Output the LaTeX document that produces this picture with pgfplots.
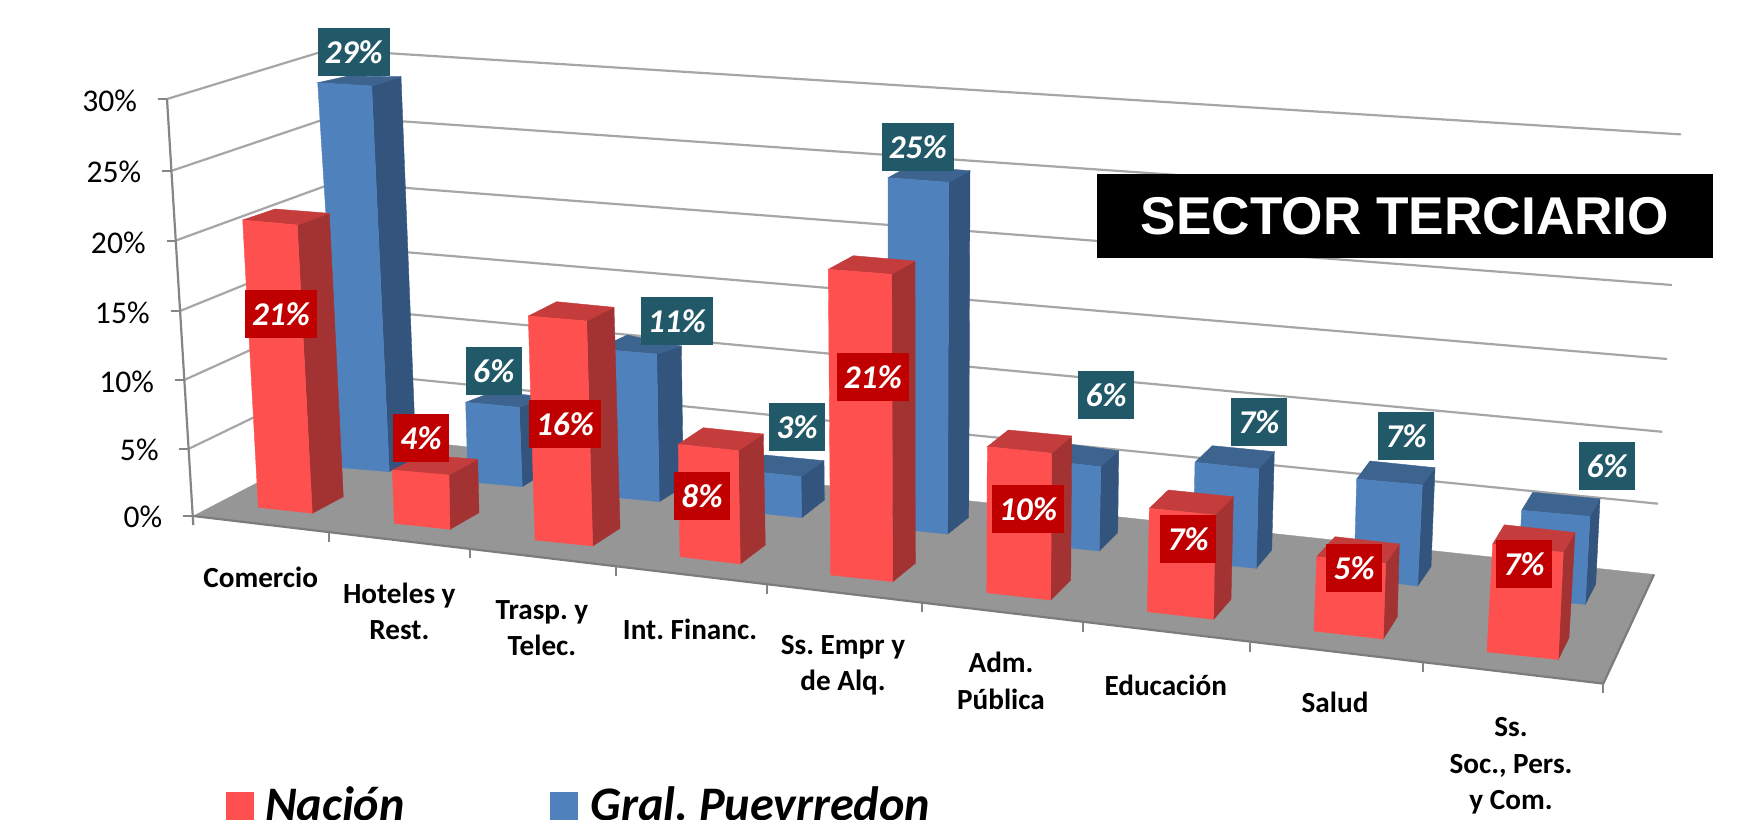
\documentclass[border=0pt]{standalone}
\usepackage{fontspec}
\setmainfont{Carlito}
\newfontfamily\titlefont{Liberation Sans}
\usepackage{pgfplots}
\pgfplotsset{compat=1.18}
\frenchspacing

\definecolor{redF}{HTML}{FF5050}
\definecolor{redS}{HTML}{A33232}
\definecolor{redT}{HTML}{C43C3C}
\definecolor{bluF}{HTML}{4F81BD}
\definecolor{bluS}{HTML}{33547D}
\definecolor{bluT}{HTML}{3D638F}
\definecolor{redL}{HTML}{C00000}
\definecolor{bluL}{HTML}{215968}
\definecolor{floorc}{HTML}{969696}
\definecolor{gridc}{HTML}{A6A6A6}

% the chart is a 3D perspective one: every face is a polygon,
% axis units are the reference's pixels (y downwards)
\newcommand{\poly}[2]{\addplot[fill=#1,draw=#1,line width=0.2pt] coordinates {#2} -- cycle;}
% prefix, front-left top, front-right top, back-left top, back-right top, bottoms FL FR BR
\newcommand{\cuboid}[8]{%
  \poly{#1S}{#3 #5 #8 #7}%
  \poly{#1T}{#2 #4 #5 #3}%
  \poly{#1F}{#2 #3 #7 #6}%
}
\newcommand{\gl}[1]{\addplot[gridc,line width=1.1pt] coordinates {#1};}
\newcommand{\tk}[1]{\addplot[gridc!80!black,line width=1.1pt] coordinates {#1};}
\newcommand{\lb}[1]{\raisebox{-0.8pt}{#1}}

\tikzset{
  ylab/.style={anchor=east,inner sep=0pt,font=\fontsize{15.8}{18}\selectfont},
  cat/.style={align=center,inner sep=0pt,font=\fontsize{14.6}{18.2}\selectfont\bfseries},
  vb/.style={fill=#1,text=white,inner sep=0pt,minimum height=24pt,font=\fontsize{16.6}{18}\selectfont\bfseries\itshape},
  two/.style={vb=#1,minimum width=36pt},
  one/.style={vb=#1,minimum width=28pt},
}

\begin{document}
\begin{tikzpicture}
\useasboundingbox (0,0) rectangle (875pt,409.5pt);
\begin{axis}[
  at={(0,0)}, anchor=south west,
  scale only axis, width=875pt, height=409.5pt,
  xmin=0, xmax=1750, ymin=0, ymax=819, y dir=reverse,
  hide axis, clip=false,
]
% floor
\poly{floorc}{(193.3,516) (350.5,434.3) (1654,574.5) (1603.3,683.6)}
\addplot[gridc!75!black,line width=1.1pt] coordinates {(193.3,516) (1603.3,683.6) (1654,574.5)};

% gridlines: axis, back corner, right end
\gl{(167,99) (329,49.5) (1681,134.4)}
\gl{(171,171) (332.5,116.5) (1676.5,209.6)}
\gl{(175.3,240.7) (335,182.5) (1672,285)}
\gl{(180,311) (339,246.5) (1667,359)}
\gl{(184.3,380) (343,308) (1662.3,431.8)}
\gl{(189,448.7) (346.5,372.5) (1658,503.7)}

% value axis and its ticks
\tk{(167,99) (193.3,525)}
\tk{(157.7,99) (167,99)}
\tk{(162.3,171) (171,171)}
\tk{(166.7,240.7) (175.3,240.7)}
\tk{(170.7,311) (180,311)}
\tk{(175.3,380) (184.3,380)}
\tk{(179.3,448.7) (189,448.7)}
\tk{(183.3,516) (193.3,516)}

% category ticks
\tk{(329.3,533) (329.3,541.7)}
\tk{(470,550) (470,558)}
\tk{(615.7,566) (615.7,575.7)}
\tk{(766.7,585) (766.7,594)}
\tk{(921.7,603) (921.7,612)}
\tk{(1083,623) (1083,631.7)}
\tk{(1250,643) (1250,651.7)}
\tk{(1423.3,663) (1423.3,671.7)}
\tk{(1603.3,683.6) (1603.3,693)}

% Gral. Puevrredon
\cuboid{blu}{(317.7,82.7)}{(371.7,86)}{(348,76)}{(401,76.7)}{(341.7,467.7)}{(389.3,471.7)}{(416,458)}
\cuboid{blu}{(465.7,402.3)}{(519.3,407.3)}{(493.3,391.7)}{(548,397)}{(468,481.7)}{(522.3,486.7)}{(549,470)}
\cuboid{blu}{(597,349)}{(656.7,354)}{(627.3,335)}{(681.3,346)}{(598,495.7)}{(659.3,501.7)}{(683.3,486.7)}
\cuboid{blu}{(740,470)}{(801,476.7)}{(765,455)}{(824,460.7)}{(740,511)}{(801.7,517.7)}{(824.3,500)}
\cuboid{blu}{(888,177.7)}{(948.7,182.3)}{(909.3,166)}{(970,170.7)}{(888,528)}{(947.7,534)}{(968.7,517.3)}
\cuboid{blu}{(1040,460)}{(1100.7,466.7)}{(1060,443)}{(1118.7,450.7)}{(1040,545)}{(1099.3,551)}{(1117.7,532.7)}
\cuboid{blu}{(1195,462.3)}{(1258.7,469)}{(1212.3,445.7)}{(1274.3,451.7)}{(1193,562)}{(1256.3,568.3)}{(1271.7,550)}
\cuboid{blu}{(1356.7,479)}{(1422.3,485)}{(1370,461)}{(1435,467.7)}{(1354,578)}{(1417.7,586)}{(1431,566.7)}
\cuboid{blu}{(1521.7,510.3)}{(1590,516.4)}{(1532.7,492.3)}{(1600,498.8)}{(1517,598)}{(1585.3,604.4)}{(1595.7,584)}

% Nacion
\cuboid{red}{(242.7,220)}{(297.3,225)}{(275,209)}{(329.3,213.3)}{(258.3,507.3)}{(312.3,513.3)}{(343.3,496.7)}
\cuboid{red}{(392.3,470)}{(449,475)}{(423,455)}{(477.7,459.3)}{(394.3,523.3)}{(450,529.3)}{(479,512.7)}
\cuboid{red}{(528.3,316)}{(586.7,321)}{(556.7,301.7)}{(614,307.3)}{(535,540)}{(592.7,546)}{(620,528.3)}
\cuboid{red}{(678.3,444.3)}{(738.3,450.7)}{(703.3,427.7)}{(763.3,434)}{(680,556.7)}{(740.3,564)}{(765.3,545)}
\cuboid{red}{(828.3,269.3)}{(891.7,274.3)}{(853.3,255.7)}{(915,261)}{(830.7,575)}{(892.7,581.7)}{(915.3,563.3)}
\cuboid{red}{(987.3,446.7)}{(1051.7,453.3)}{(1008.3,430)}{(1071.7,436)}{(986.7,592.7)}{(1050.7,600)}{(1070.7,580)}
\cuboid{red}{(1149.3,508.3)}{(1215,515)}{(1168.3,490)}{(1233.3,496.7)}{(1147.3,611.7)}{(1213.7,619.3)}{(1231,599.3)}
\cuboid{red}{(1316.7,556.7)}{(1385.7,563.3)}{(1335,536.7)}{(1399.3,544)}{(1314,631)}{(1383.3,639)}{(1397.3,616.7)}
\cuboid{red}{(1492.7,544)}{(1563.3,552.4)}{(1504.3,524.8)}{(1575,532.5)}{(1487,651.9)}{(1558.3,659.5)}{(1569,637.7)}

% value labels on the axis
\node[ylab] at (axis cs:137.3,101) {30\%};
\node[ylab] at (axis cs:141.7,172) {25\%};
\node[ylab] at (axis cs:146,243) {20\%};
\node[ylab] at (axis cs:150,313) {15\%};
\node[ylab] at (axis cs:154.3,382) {10\%};
\node[ylab] at (axis cs:159,450) {5\%};
\node[ylab] at (axis cs:162.7,516.7) {0\%};

% categories
\node[cat] at (axis cs:260.7,577) {Comercio};
\node[cat] at (axis cs:399.3,611.5) {Hoteles y\\Rest.};
\node[cat] at (axis cs:542,628) {Trasp. y\\Telec.};
\node[cat] at (axis cs:690,629.5) {Int. Financ.};
\node[cat] at (axis cs:843,665.5) {Ss. Empr y\\de Alq.};
\node[cat] at (axis cs:1001,681) {Adm.\\Pública};
\node[cat] at (axis cs:1165.7,685.5) {Educación};
\node[cat] at (axis cs:1335,702.5) {Salud};
\node[cat] at (axis cs:1511,766) {Ss.\\Soc., Pers.\\y Com.};

% data labels
\node[two=bluL] at (axis cs:353.7,52) {\lb{29\%}};
\node[one=bluL] at (axis cs:493.7,371) {\lb{6\%}};
\node[two=bluL] at (axis cs:676.8,320.8) {\lb{11\%}};
\node[one=bluL] at (axis cs:797,426.8) {\lb{3\%}};
\node[two=bluL] at (axis cs:917.8,146.8) {\lb{25\%}};
\node[one=bluL] at (axis cs:1106,395) {\lb{6\%}};
\node[one=bluL] at (axis cs:1258.8,421.8) {\lb{7\%}};
\node[one=bluL] at (axis cs:1406,436) {\lb{7\%}};
\node[one=bluL] at (axis cs:1607,465.8) {\lb{6\%}};
\node[two=redL] at (axis cs:281,313.8) {\lb{21\%}};
\node[one=redL] at (axis cs:421,437.8) {\lb{4\%}};
\node[two=redL] at (axis cs:565,423.8) {\lb{16\%}};
\node[one=redL] at (axis cs:702,495.8) {\lb{8\%}};
\node[two=redL] at (axis cs:872.8,376.8) {\lb{21\%}};
\node[two=redL] at (axis cs:1028,509) {\lb{10\%}};
\node[one=redL] at (axis cs:1188,538.8) {\lb{7\%}};
\node[one=redL] at (axis cs:1354,567.8) {\lb{5\%}};
\node[one=redL] at (axis cs:1524,564) {\lb{7\%}};

% title box
\node[fill=black,text=white,minimum width=308pt,minimum height=42pt,inner sep=0pt,
  font=\fontsize{26.6}{30}\selectfont\titlefont\bfseries] at (axis cs:1405,216) {\raisebox{-0.6pt}{SECTOR TERCIARIO}};

% legend, cut by the lower edge as in the original
\poly{redF}{(226,792.3) (252.7,792.3) (252.7,830) (226,830)}
\poly{bluF}{(550,792.3) (576.7,792.3) (576.7,830) (550,830)}
\node[anchor=base west,inner sep=0pt,font=\fontsize{24.1}{26}\selectfont\bfseries\itshape] at (axis cs:264.7,820) {Nación};
\node[anchor=base west,inner sep=0pt,font=\fontsize{24.1}{26}\selectfont\bfseries\itshape] at (axis cs:590,820) {Gral. Puevrredon};
\end{axis}
\end{tikzpicture}
\end{document}
